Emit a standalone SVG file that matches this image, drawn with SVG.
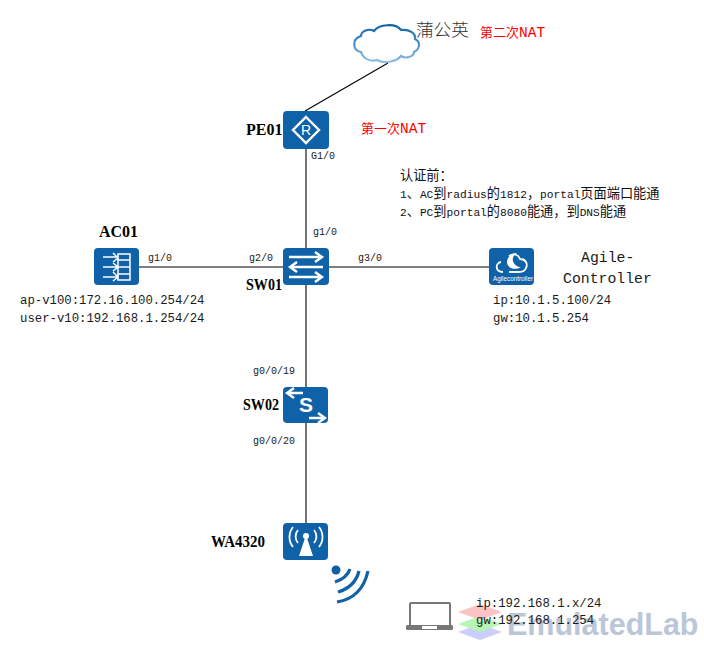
<svg xmlns="http://www.w3.org/2000/svg" width="704" height="647" viewBox="0 0 704 647">
<defs>
<linearGradient id="cloudG" x1="0" y1="0" x2="0" y2="1"><stop offset="0" stop-color="#0f62a8"/><stop offset="1" stop-color="#8fbde6"/></linearGradient>
</defs>
<style>
text{font-family:"Liberation Mono","Noto Sans CJK SC",monospace;fill:#1a1a1a}
.lb{font-size:12.3px}
.n{font-size:13.2px;fill:#111}
.n tspan{font-size:11.2px}
.pt{font-size:10px}
.nm{font-family:"Liberation Serif","Noto Sans CJK SC",serif;font-size:16px;font-weight:bold;fill:#000}
.red{fill:#f00;font-size:13px}
.red tspan{font-size:14.5px;fill:#f00}
.big{font-size:14.8px}
.ic{fill:#0f62a8}
.w{fill:none;stroke:#fff;stroke-width:2.4}
.t{fill:none;stroke:#fff;stroke-width:1.5}
.c{stroke:#000;stroke-width:1.1;fill:none}
</style>
<rect width="704" height="647" fill="#fff"/>
<g id="watermark">
<path d="M458 632l22-8 22 8-22 8z" fill="#cdcdfb"/>
<path d="M458 624l22-8 22 8-22 8z" fill="#b5f5b5"/>
<path d="M458 612l22-8 22 8-22 8z" fill="#fbc4c4"/>
<text x="507" y="635" style="font-family:'Liberation Sans',sans-serif;font-size:30.500px;font-weight:bold;fill:#bcc6d9">EmulatedLab</text>
</g>
<g id="connectors">
<path class="c" d="M388 63L305 111M306 149V248M306 285V387M306 423V523M139 267H283M329 267H489"/>
</g>
<g id="cloud">
<path d="M361 52c-9-2-9-13 0-16 0-5 8-8 13-5 5-7 22-8 27-1 8-1 15 3 14 9 6 3 5 10-1 13 0 5-9 7-13 4-5 6-17 8-24 4-6 2-14-1-16-8z" fill="#fff" stroke="url(#cloudG)" stroke-width="2.200"/>
<text x="416" y="36" style="font-size:17.600px;font-family:'Noto Sans CJK SC',sans-serif;font-weight:300;fill:#333">蒲公英</text>
<text x="480" y="37" class="red">第二次<tspan>NAT</tspan></text>
</g>
<g id="PE01">
<rect class="ic" x="283" y="111" width="46" height="38" rx="4"/>
<path class="w" d="M306 117L319 130L306 143L293 130Z"/>
<text x="306" y="135" text-anchor="middle" style="font-family:'Liberation Sans',sans-serif;font-size:14px;fill:#fff">R</text>
<text x="246" y="135" class="nm">PE01</text>
<text x="361" y="133" class="red">第一次<tspan>NAT</tspan></text>
<text x="311" y="159" class="pt">G1/0</text>
</g>
<g id="note">
<text x="400" y="180" class="n">认证前：</text>
<text x="400" y="198" class="n"><tspan>1</tspan>、<tspan>AC</tspan>到<tspan>radius</tspan>的<tspan>1812</tspan>，<tspan>portal</tspan>页面端口能通</text>
<text x="400" y="216" class="n"><tspan>2</tspan>、<tspan>PC</tspan>到<tspan>portal</tspan>的<tspan>8080</tspan>能通，到<tspan>DNS</tspan>能通</text>
</g>
<g id="AC01">
<rect class="ic" x="94" y="248" width="45" height="37" rx="4"/>
<path class="t" d="M118 254H130V280H118ZM118 260H130M118 267H130M118 274H130M103 257H117M113 253L118 258L113 262M103 267H117M113 263L118 267L113 271M103 277H117M113 272L118 277L113 281"/>
<text x="99" y="237" class="nm">AC01</text>
<text x="148" y="261" class="pt">g1/0</text>
<text x="20" y="304" class="lb">ap-v100:172.16.100.254/24</text>
<text x="20" y="322" class="lb">user-v10:192.168.1.254/24</text>
</g>
<g id="SW01">
<rect class="ic" x="283" y="248" width="46" height="37" rx="4"/>
<path class="w" d="M289 257H321M315 252L322 257L315 262M323 267H291M297 262L290 267L297 272M289 277H321M315 272L322 277L315 282"/>
<text x="249" y="261" class="pt">g2/0</text>
<text x="313" y="235" class="pt">g1/0</text>
<text x="358" y="261" class="pt">g3/0</text>
<text x="246" y="290" class="nm" textLength="36" lengthAdjust="spacingAndGlyphs">SW01</text>
</g>
<g id="AgileController">
<rect class="ic" x="489" y="248" width="45" height="37" rx="4"/>
<path d="M503 272c-8 0-8-9-2-10M509 256c4-3 9-2 11 3 6 0 8 5 6 9-1 3-4 4-7 4h-10" fill="none" stroke="#fff" stroke-width="1.800"/>
<path d="M507 262c0-5 5-9 10-9-3 2-5 5-4 8 1 4 5 6 8 6-6 4-14 1-14-5z" fill="#fff"/>
<text x="493" y="281" textLength="40" lengthAdjust="spacingAndGlyphs" style="font-family:'Liberation Sans',sans-serif;font-size:7px;fill:#fff">Agilecontroller</text>
<text x="581" y="262" class="big">Agile-</text>
<text x="563" y="283" class="big">Controller</text>
<text x="493" y="304" class="lb">ip:10.1.5.100/24</text>
<text x="493" y="322" class="lb">gw:10.1.5.254</text>
</g>
<g id="SW02">
<rect class="ic" x="283" y="387" width="45" height="36" rx="4"/>
<path class="w" d="M303 393H288M294 388L287 393L294 398M309 418H324M318 413L325 418L318 423"/>
<text x="306" y="412" text-anchor="middle" style="font-family:'Liberation Sans',sans-serif;font-size:21px;font-weight:bold;fill:#fff">S</text>
<text x="253" y="374" class="pt">g0/0/19</text>
<text x="253" y="444" class="pt">g0/0/20</text>
<text x="243" y="410" class="nm" textLength="36" lengthAdjust="spacingAndGlyphs">SW02</text>
</g>
<g id="WA4320">
<rect class="ic" x="283" y="523" width="45" height="37" rx="4"/>
<path d="M306 535L313 556H299Z" fill="#fff"/>
<circle cx="306" cy="536" r="3" fill="#fff"/>
<path class="t" d="M298 530a10 10 0 0 0 0 13M293 527a16 16 0 0 0 0 20M314 530a10 10 0 0 1 0 13M319 527a16 16 0 0 1 0 20" style="stroke-width:1.800"/>
<text x="211" y="547" class="nm" textLength="54" lengthAdjust="spacingAndGlyphs">WA4320</text>
<circle cx="336" cy="570" r="4.500" fill="#0f62a8"/>
<path d="M335 582Q347 578 350 569M338 592Q355 587 359 571M337 602Q362 598 368 571" fill="none" stroke="#0f62a8" stroke-width="3.200"/>
</g>
<g id="PC">
<path d="M410 626V604q0-1 1-1h38q1 0 1 1v22" fill="#fff" stroke="#777" stroke-width="2"/>
<rect x="406" y="625" width="47" height="5" rx="1.500" fill="#777"/>
<rect x="422" y="626" width="15" height="3" fill="#fff"/>
<text x="476" y="607" class="lb">ip:192.168.1.x/24</text>
<text x="476" y="624" class="lb">gw:192.168.1.254</text>
</g>
</svg>
